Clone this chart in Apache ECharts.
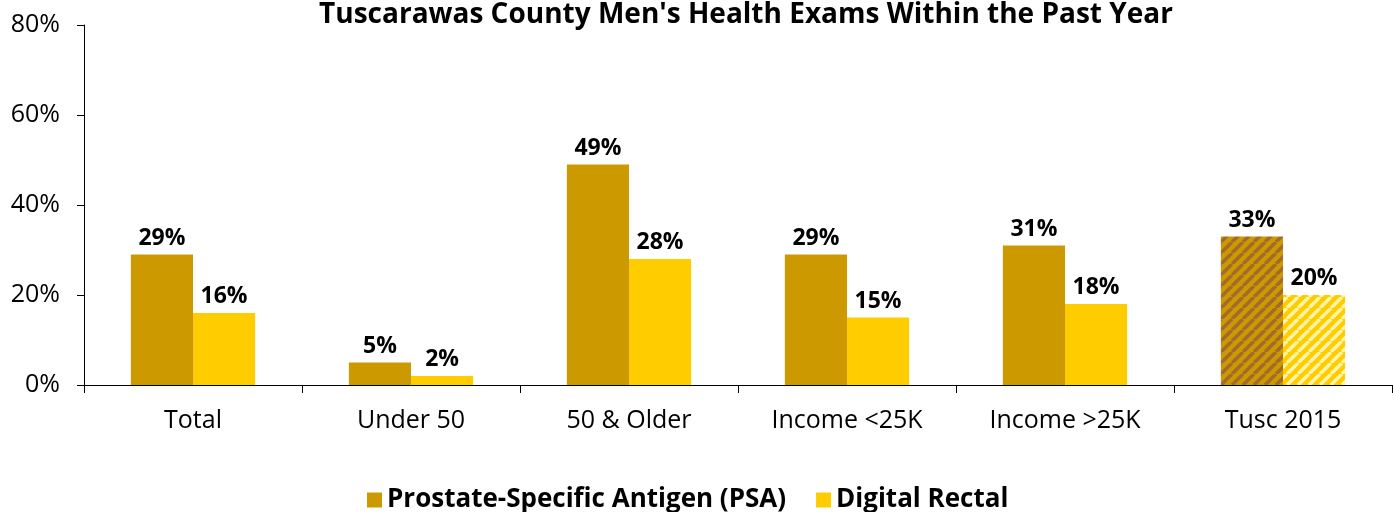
<!DOCTYPE html>
<html>
<head>
<meta charset="utf-8">
<script src="https://cdn.jsdelivr.net/npm/echarts@6/dist/echarts.min.js"></script>
<style>
  html, body { margin: 0; padding: 0; background: #fff; }
  #chart { width: 1394px; height: 512px; }
</style>
</head>
<body>
<div id="chart"></div>
<script>
const categories = ['Total', 'Under 50', '50 & Older', 'Income <25K', 'Income >25K', 'Tusc 2015']
const psaValues = [29, 5, 49, 29, 31, 33]
const rectalValues = [16, 2, 28, 15, 18, 20]
const yTicks = [0, 20, 40, 60, 80]

const font = '"Open Sans", "Noto Sans", sans-serif'

// diagonal stripes for the 2015 comparison bars
const makeStripes = (bg, stripe) => {
  const size = 11
  const c = document.createElement('canvas')
  c.width = size
  c.height = size
  const ctx = c.getContext('2d')
  ctx.fillStyle = bg
  ctx.fillRect(0, 0, size, size)
  ctx.strokeStyle = stripe
  ctx.lineWidth = 3.5
  ctx.beginPath()
  for (let k = -1; k <= 1; k++) {
    ctx.moveTo(k * size, size)
    ctx.lineTo(k * size + size, 0)
  }
  ctx.stroke()
  return { image: c, repeat: 'repeat' }
}

const psaStripe = makeStripes('#CC9900', '#A26B2C')
const rectalStripe = makeStripes('#FFCC00', '#FFF4A8')

const lastIdx = categories.length - 1
const psaData = psaValues.map((v, i) => i === lastIdx ? { value: v, itemStyle: { color: psaStripe } } : v)
const rectalData = rectalValues.map((v, i) => i === lastIdx ? { value: v, itemStyle: { color: rectalStripe } } : v)

const labelStyle = {
  show: true,
  position: 'top',
  distance: 5,
  formatter: p => p.value + '%',
  color: '#000',
  fontFamily: font,
  fontWeight: 'bold',
  fontSize: 23
}

const option = {
  animation: false,
  title: {
    text: "Tuscarawas County Men's Health Exams Within the Past Year",
    left: 741,
    top: -4,
    textAlign: 'center',
    textStyle: { fontFamily: font, fontWeight: 'bold', fontSize: 28, color: '#000' }
  },
  legend: {
    bottom: -6,
    left: 362,
    itemWidth: 15,
    itemHeight: 15,
    itemGap: 30,
    icon: 'rect',
    textStyle: { fontFamily: font, fontWeight: 'bold', fontSize: 26, color: '#000' },
    data: ['Prostate-Specific Antigen (PSA)', 'Digital Rectal']
  },
  grid: { left: 84, right: 2, top: 25, bottom: 127, containLabel: false },
  xAxis: {
    type: 'category',
    data: categories,
    axisLine: { lineStyle: { color: '#000', width: 1 } },
    axisTick: { show: true, length: 8, lineStyle: { color: '#000' } },
    axisLabel: { color: '#000', fontFamily: font, fontSize: 25, margin: 23 }
  },
  yAxis: {
    type: 'value',
    min: yTicks[0],
    max: yTicks[yTicks.length - 1],
    interval: 20,
    axisLine: { show: true, lineStyle: { color: '#000', width: 1 } },
    axisTick: { show: true, inside: false, length: 7, lineStyle: { color: '#000' } },
    splitLine: { show: false },
    axisLabel: { color: '#000', fontFamily: font, fontSize: 25, margin: 24, formatter: v => v + '%' }
  },
  series: [
    {
      name: 'Prostate-Specific Antigen (PSA)',
      type: 'bar',
      data: psaData,
      barGap: '0%',
      barCategoryGap: '43%',
      itemStyle: { color: '#CC9900' },
      label: labelStyle
    },
    {
      name: 'Digital Rectal',
      type: 'bar',
      data: rectalData,
      itemStyle: { color: '#FFCC00' },
      label: labelStyle
    }
  ]
}

const myChart = echarts.init(document.getElementById('chart'))
myChart.setOption(option)
</script>
</body>
</html>
